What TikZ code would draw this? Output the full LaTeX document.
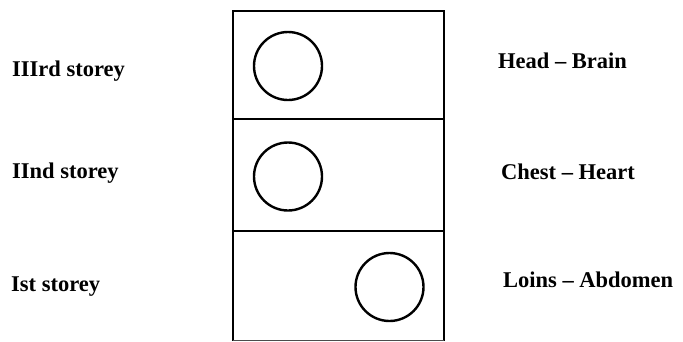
\documentclass[tikz,border=0pt]{standalone}
\usepackage{fontspec}
\setmainfont{Liberation Serif}
\begin{document}
\begin{tikzpicture}[x=1pt,y=-1pt,
  frame/.style={draw=black,line width=2.6pt},
  organ/.style={draw=black,line width=2.4pt,circle,minimum size=68pt,inner sep=0pt},
  lab/.style={font=\bfseries\fontsize{22.5}{25}\selectfont,anchor=west,inner sep=0pt}]
\useasboundingbox (0,0) rectangle (683,341);
\draw[frame] (233,340.5) -- (233,11) -- (444,11) -- (444,340.5);
\draw[draw=black!70,line width=1.6pt] (233,340.3) -- (444,340.3);
\draw[frame] (233,119) -- (444,119);
\draw[frame] (233,231) -- (444,231);
\node[organ] (c3) at (288,66) {};
\node[organ] (c2) at (288,176.5) {};
\node[organ] (c1) at (389.5,287) {};
\node[lab] (s3) at (12,71) {IIIrd storey};
\node[lab] (s2) at (12,173) {IInd storey};
\node[lab] (s1) at (11,287) {Ist storey};
\node[lab] (o3) at (498,61) {Head – Brain};
\node[lab] (o2) at (501,172) {Chest – Heart};
\node[lab] (o1) at (503,280) {Loins – Abdomen};
\end{tikzpicture}
\end{document}
